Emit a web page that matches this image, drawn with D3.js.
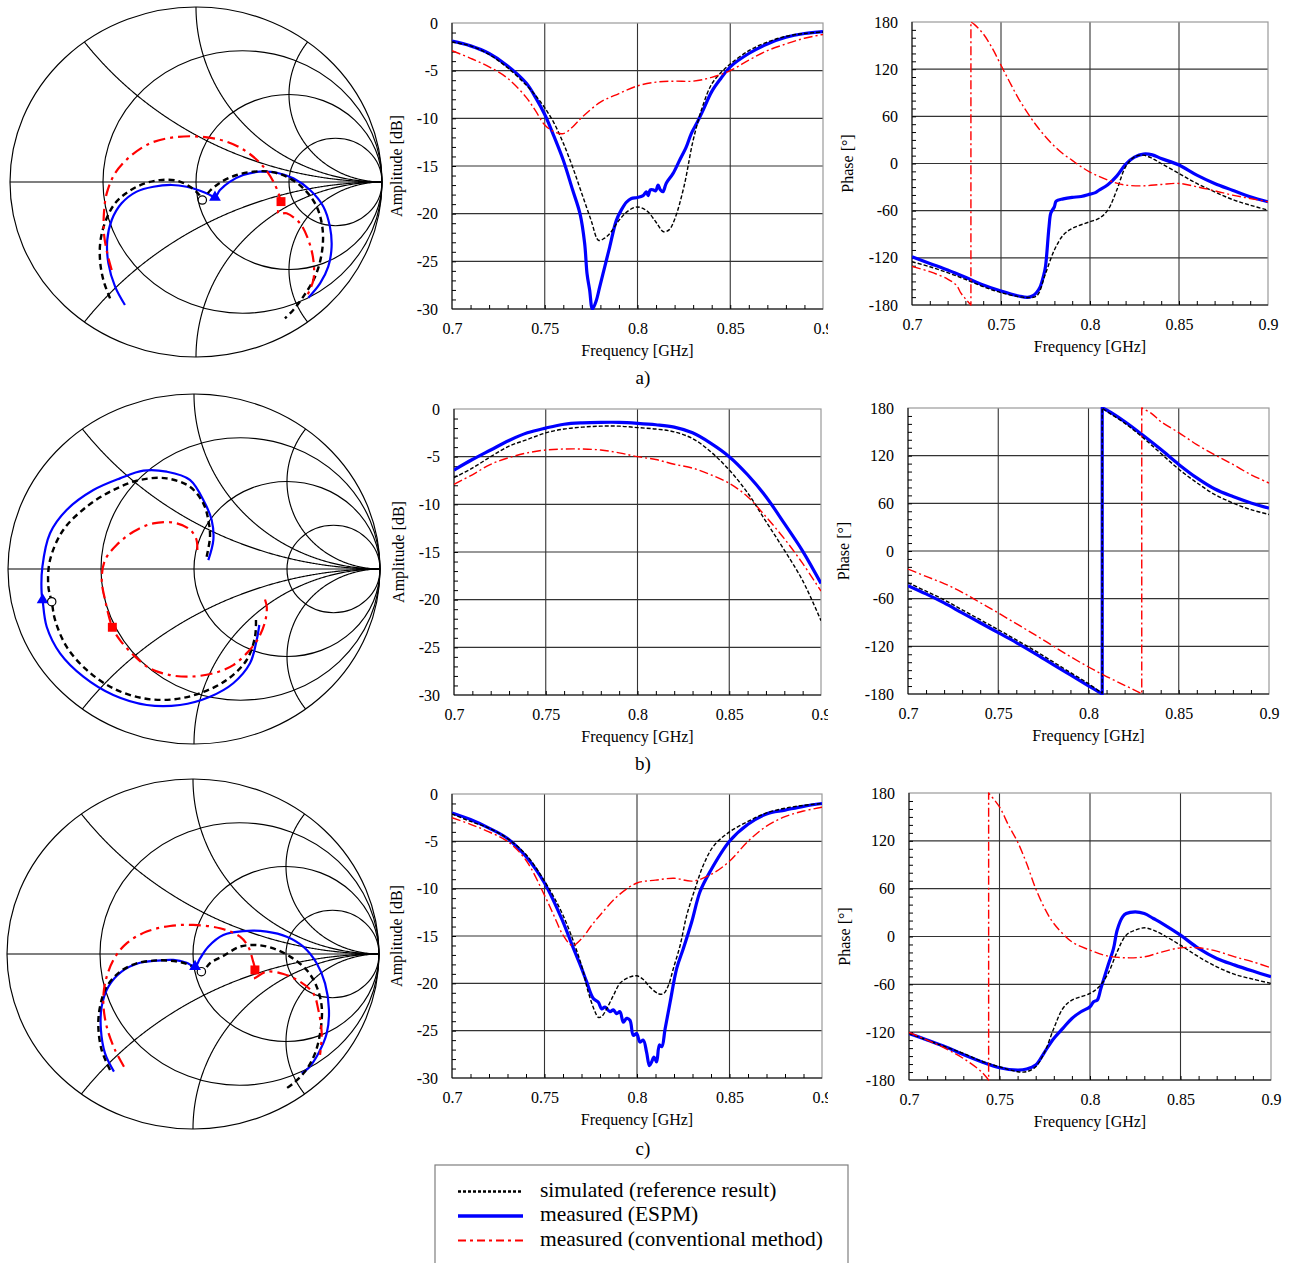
<!DOCTYPE html>
<html>
<head>
<meta charset="utf-8">
<script src="https://cdn.jsdelivr.net/npm/d3@7"></script>
<style>
  body { margin: 0; background: #fff; }
  svg { display: block; font-family: "Liberation Serif", "Times New Roman", serif; }
  svg text { font-family: "Liberation Serif", "Times New Roman", serif; }
</style>
</head>
<body>
<svg id="fig" width="1290" height="1263"></svg>
<script>
// ---- tick labels / categories ----
const FREQ_TICKS = [0.7, 0.75, 0.8, 0.85, 0.9];
const AMP_TICKS = [0, -5, -10, -15, -20, -25, -30];
const PHASE_TICKS = [180, 120, 60, 0, -60, -120, -180];
const R_CIRCLES = [1 / 3, 1, 3];
const X_ARCS = [0.5, 1, 2, -0.5, -1, -2];
const ROW_LABELS = ["a)", "b)", "c)"];
const LEGEND_LABELS = ["simulated (reference result)", "measured (ESPM)", "measured (conventional method)"];

// ---- Smith chart traces, [Re Γ, Im Γ] ----
const smithA_sim = [[-0.462,-0.665],[-0.498,-0.560],[-0.516,-0.446],[-0.513,-0.331],[-0.484,-0.217],[-0.435,-0.122],[-0.364,-0.055],[-0.283,-0.011],[-0.194,0.011],[-0.104,0.008],[-0.032,-0.027],[0.018,-0.074],[0.034,-0.103],[0.075,-0.050],[0.138,0.002],[0.219,0.040],[0.308,0.059],[0.398,0.059],[0.487,0.030],[0.577,-0.036],[0.649,-0.141],[0.681,-0.274],[0.676,-0.408],[0.640,-0.541],[0.577,-0.655],[0.523,-0.731],[0.478,-0.779]];
const smithA_esp = [[-0.382,-0.703],[-0.435,-0.598],[-0.471,-0.465],[-0.477,-0.331],[-0.453,-0.217],[-0.400,-0.122],[-0.319,-0.055],[-0.229,-0.027],[-0.131,-0.017],[-0.050,-0.027],[0.022,-0.050],[0.075,-0.074],[0.102,-0.088],[0.129,-0.046],[0.183,0.002],[0.254,0.040],[0.344,0.059],[0.434,0.053],[0.523,0.021],[0.613,-0.046],[0.685,-0.141],[0.720,-0.255],[0.729,-0.370],[0.711,-0.484],[0.667,-0.579],[0.604,-0.661]];
const smithA_conv = [[-0.453,-0.503],[-0.477,-0.408],[-0.495,-0.293],[-0.495,-0.179],[-0.480,-0.065],[-0.435,0.050],[-0.355,0.145],[-0.247,0.221],[-0.122,0.255],[0.022,0.259],[0.165,0.230],[0.272,0.173],[0.362,0.088],[0.425,-0.017],[0.452,-0.103],[0.443,-0.179],[0.487,-0.179],[0.559,-0.236],[0.604,-0.331],[0.631,-0.446],[0.631,-0.560],[0.595,-0.655]];
const smithA_marks = [[0.034,-0.103],[0.102,-0.088],[0.457,-0.112]];

const smithB_sim = [[0.068,0.070],[0.086,0.185],[0.077,0.280],[0.050,0.375],[-0.022,0.470],[-0.147,0.518],[-0.290,0.509],[-0.434,0.451],[-0.577,0.356],[-0.703,0.223],[-0.774,0.051],[-0.783,-0.101],[-0.765,-0.187],[-0.747,-0.291],[-0.685,-0.444],[-0.577,-0.577],[-0.434,-0.682],[-0.272,-0.739],[-0.111,-0.745],[0.032,-0.710],[0.176,-0.634],[0.283,-0.520],[0.328,-0.387],[0.333,-0.282]];
const smithB_esp = [[0.077,0.051],[0.104,0.166],[0.095,0.280],[0.059,0.375],[-0.022,0.509],[-0.147,0.556],[-0.272,0.562],[-0.398,0.518],[-0.541,0.451],[-0.685,0.337],[-0.774,0.204],[-0.815,0.013],[-0.819,-0.139],[-0.814,-0.177],[-0.792,-0.330],[-0.720,-0.482],[-0.595,-0.615],[-0.434,-0.720],[-0.254,-0.777],[-0.075,-0.777],[0.086,-0.730],[0.211,-0.653],[0.301,-0.539],[0.337,-0.406],[0.351,-0.320]];
const smithB_conv = [[0.018,0.109],[0.011,0.175],[-0.030,0.232],[-0.111,0.265],[-0.219,0.261],[-0.326,0.213],[-0.416,0.137],[-0.478,0.051],[-0.496,-0.063],[-0.478,-0.177],[-0.439,-0.333],[-0.398,-0.406],[-0.326,-0.491],[-0.237,-0.568],[-0.129,-0.606],[-0.022,-0.615],[0.104,-0.596],[0.211,-0.549],[0.292,-0.472],[0.346,-0.396],[0.382,-0.301],[0.391,-0.215],[0.373,-0.149]];
const smithB_marks = [[-0.765,-0.187],[-0.814,-0.177],[-0.439,-0.333]];

const smithC_sim = [[-0.446,-0.663],[-0.491,-0.549],[-0.509,-0.415],[-0.500,-0.301],[-0.464,-0.187],[-0.392,-0.101],[-0.303,-0.053],[-0.213,-0.038],[-0.124,-0.038],[-0.043,-0.053],[0.020,-0.082],[0.050,-0.101],[0.091,-0.053],[0.163,-0.011],[0.253,0.042],[0.342,0.051],[0.432,0.032],[0.522,-0.015],[0.611,-0.091],[0.665,-0.187],[0.692,-0.301],[0.686,-0.434],[0.656,-0.568],[0.602,-0.672],[0.539,-0.739],[0.495,-0.773]];
const smithC_esp = [[-0.425,-0.672],[-0.473,-0.568],[-0.495,-0.434],[-0.491,-0.301],[-0.455,-0.187],[-0.384,-0.101],[-0.294,-0.053],[-0.195,-0.038],[-0.106,-0.034],[-0.034,-0.050],[0.011,-0.072],[0.038,-0.025],[0.082,0.042],[0.163,0.109],[0.271,0.131],[0.396,0.128],[0.504,0.099],[0.593,0.042],[0.665,-0.053],[0.710,-0.168],[0.731,-0.320],[0.719,-0.453],[0.674,-0.568],[0.620,-0.653],[0.584,-0.682]];
const smithC_conv = [[-0.371,-0.644],[-0.419,-0.549],[-0.464,-0.415],[-0.482,-0.282],[-0.473,-0.168],[-0.428,-0.034],[-0.357,0.061],[-0.249,0.128],[-0.124,0.160],[0.002,0.166],[0.145,0.147],[0.253,0.099],[0.297,0.042],[0.321,-0.034],[0.333,-0.091],[0.324,-0.139],[0.396,-0.101],[0.486,-0.114],[0.575,-0.158],[0.647,-0.225],[0.674,-0.320],[0.692,-0.453],[0.683,-0.577]];
const smithC_marks = [[0.045,-0.101],[0.011,-0.072],[0.333,-0.091]];

// ---- amplitude [GHz, dB] ----
const ampA_sim = [[0.70,-2.0],[0.71,-2.4],[0.72,-3.3],[0.73,-4.7],[0.74,-6.5],[0.745,-7.6],[0.75,-8.9],[0.755,-10.5],[0.76,-12.6],[0.765,-15.1],[0.77,-17.9],[0.775,-20.7],[0.779,-22.8],[0.782,-22.6],[0.785,-22.1],[0.79,-20.7],[0.795,-19.7],[0.80,-19.3],[0.805,-19.7],[0.81,-20.9],[0.814,-21.9],[0.817,-21.7],[0.82,-20.6],[0.825,-17.2],[0.83,-12.3],[0.835,-8.8],[0.84,-6.4],[0.845,-5.2],[0.85,-4.3],[0.86,-2.9],[0.87,-2.0],[0.88,-1.4],[0.89,-1.1],[0.90,-0.95]];
const ampA_esp = [[0.70,-1.9],[0.71,-2.4],[0.72,-3.2],[0.73,-4.5],[0.74,-6.3],[0.745,-7.8],[0.75,-9.6],[0.755,-11.9],[0.76,-14.4],[0.765,-17.5],[0.769,-20.0],[0.7715,-23.1],[0.7728,-26.3],[0.7742,-28.0],[0.7757,-30.0],[0.7778,-29.1],[0.7796,-27.7],[0.7823,-25.6],[0.785,-23.5],[0.7886,-20.7],[0.7913,-19.6],[0.794,-18.8],[0.7967,-18.4],[0.80,-18.3],[0.803,-18.1],[0.8048,-17.7],[0.8057,-18.1],[0.8069,-17.5],[0.8084,-17.5],[0.8098,-17.6],[0.8111,-17.0],[0.8123,-17.5],[0.8137,-17.7],[0.8155,-16.8],[0.8191,-15.8],[0.8227,-14.4],[0.8263,-13.0],[0.829,-11.6],[0.832,-10.5],[0.835,-9.3],[0.84,-7.2],[0.845,-5.8],[0.85,-4.6],[0.86,-3.2],[0.87,-2.2],[0.88,-1.5],[0.89,-1.1],[0.90,-0.9]];
const ampA_conv = [[0.70,-2.9],[0.71,-3.7],[0.72,-4.6],[0.73,-5.8],[0.74,-7.8],[0.745,-9.2],[0.75,-10.7],[0.755,-11.4],[0.76,-11.6],[0.765,-10.9],[0.77,-9.9],[0.78,-8.3],[0.79,-7.4],[0.80,-6.6],[0.81,-6.2],[0.82,-6.1],[0.83,-6.1],[0.84,-5.7],[0.85,-5.0],[0.86,-3.9],[0.87,-2.9],[0.88,-2.2],[0.89,-1.6],[0.90,-1.2]];

const ampB_sim = [[0.70,-7.2],[0.71,-6.2],[0.72,-5.0],[0.73,-3.9],[0.74,-3.2],[0.75,-2.5],[0.76,-2.1],[0.77,-1.9],[0.78,-1.8],[0.79,-1.8],[0.80,-1.95],[0.81,-2.1],[0.82,-2.4],[0.83,-3.1],[0.84,-4.5],[0.85,-6.4],[0.86,-8.8],[0.87,-11.8],[0.88,-14.8],[0.89,-18.0],[0.90,-22.2]];
const ampB_esp = [[0.70,-6.4],[0.71,-5.3],[0.72,-4.3],[0.73,-3.3],[0.74,-2.5],[0.75,-2.0],[0.76,-1.6],[0.77,-1.45],[0.78,-1.4],[0.79,-1.4],[0.80,-1.5],[0.81,-1.65],[0.82,-1.9],[0.83,-2.5],[0.84,-3.6],[0.85,-5.0],[0.86,-6.9],[0.87,-9.2],[0.88,-12.0],[0.89,-14.9],[0.90,-18.3]];
const ampB_conv = [[0.70,-7.9],[0.71,-6.9],[0.72,-5.8],[0.73,-5.1],[0.74,-4.6],[0.75,-4.3],[0.76,-4.2],[0.77,-4.2],[0.78,-4.3],[0.79,-4.6],[0.80,-5.0],[0.81,-5.3],[0.82,-5.8],[0.83,-6.2],[0.84,-6.9],[0.85,-7.8],[0.86,-9.2],[0.87,-11.3],[0.88,-13.6],[0.89,-16.2],[0.90,-19.1]];

const ampC_sim = [[0.70,-2.1],[0.71,-2.9],[0.72,-3.6],[0.73,-4.7],[0.74,-6.4],[0.75,-9.2],[0.76,-12.8],[0.77,-18.1],[0.7736,-20.9],[0.7773,-23.0],[0.7791,-23.6],[0.7809,-23.5],[0.7836,-22.7],[0.7872,-21.3],[0.7908,-20.0],[0.7953,-19.4],[0.7998,-19.2],[0.8034,-19.6],[0.807,-20.4],[0.8116,-21.1],[0.8143,-21.1],[0.817,-20.2],[0.8197,-18.4],[0.8233,-16.0],[0.8269,-12.8],[0.8314,-10.0],[0.8359,-7.5],[0.8414,-5.5],[0.85,-4.0],[0.86,-2.9],[0.87,-2.0],[0.88,-1.5],[0.89,-1.2],[0.90,-1.0]];
const ampC_esp = [[0.70,-2.0],[0.71,-2.7],[0.72,-3.6],[0.73,-4.7],[0.74,-6.6],[0.75,-9.4],[0.76,-13.5],[0.765,-16.0],[0.77,-18.4],[0.7727,-19.8],[0.7764,-21.6],[0.7791,-22.0],[0.7809,-22.7],[0.7827,-22.5],[0.7854,-23.0],[0.7872,-22.8],[0.789,-23.2],[0.7908,-23.0],[0.7926,-24.1],[0.7944,-23.7],[0.7962,-23.9],[0.798,-25.5],[0.7998,-25.3],[0.8016,-26.2],[0.8034,-26.0],[0.8052,-27.3],[0.8067,-28.7],[0.8079,-28.3],[0.8092,-27.8],[0.8106,-28.3],[0.8121,-26.5],[0.8134,-26.7],[0.8152,-24.8],[0.8179,-22.0],[0.8215,-18.4],[0.8251,-16.3],[0.8296,-13.5],[0.8341,-10.3],[0.8395,-8.2],[0.85,-5.0],[0.86,-3.2],[0.87,-2.1],[0.88,-1.7],[0.89,-1.3],[0.90,-1.0]];
const ampC_conv = [[0.70,-2.5],[0.71,-3.2],[0.72,-4.0],[0.73,-5.0],[0.74,-7.0],[0.75,-10.7],[0.755,-12.8],[0.76,-14.9],[0.765,-16.0],[0.77,-15.3],[0.775,-14.0],[0.78,-12.8],[0.79,-10.7],[0.80,-9.4],[0.81,-9.1],[0.82,-8.9],[0.83,-9.2],[0.84,-8.5],[0.85,-7.1],[0.86,-5.0],[0.87,-3.4],[0.88,-2.4],[0.89,-1.8],[0.90,-1.4]];

// ---- phase [GHz, deg] ----
const phaseA_sim = [[0.70,-125],[0.71,-131.3],[0.72,-138.9],[0.73,-147.4],[0.74,-156.7],[0.75,-164.3],[0.76,-169.4],[0.765,-170.5],[0.77,-168.6],[0.775,-140],[0.78,-110],[0.785,-91],[0.79,-82.6],[0.80,-74],[0.805,-69.9],[0.81,-59.3],[0.815,-34],[0.82,-4.2],[0.825,8.5],[0.83,10.6],[0.835,6.4],[0.84,0],[0.85,-12.7],[0.86,-25.4],[0.87,-36],[0.88,-45.8],[0.89,-53],[0.90,-59.3]];
const phaseA_esp = [[0.70,-118.6],[0.71,-127.1],[0.72,-135.5],[0.73,-144.8],[0.74,-154.6],[0.75,-162.2],[0.76,-168.6],[0.765,-170.3],[0.768,-168],[0.77,-164],[0.772,-157],[0.774,-142],[0.775,-131],[0.777,-80],[0.778,-63],[0.78,-55],[0.781,-48],[0.785,-45],[0.79,-43],[0.795,-42],[0.80,-39],[0.803,-37],[0.805,-34],[0.81,-27],[0.815,-16],[0.82,-1],[0.825,8],[0.83,12],[0.835,11],[0.84,6.4],[0.85,-2],[0.86,-14.8],[0.87,-25.4],[0.88,-34],[0.89,-42.4],[0.90,-48.7]];
const phaseA_conv = [[0.70,-131],[0.71,-137.6],[0.72,-147],[0.725,-155],[0.7275,-165],[0.73,-172],[0.7331,-180],[0.7331,180],[0.735,177],[0.74,165],[0.745,147],[0.75,125],[0.755,103],[0.76,82],[0.765,64],[0.77,48],[0.775,34],[0.78,22],[0.785,12],[0.79,4],[0.795,-4],[0.80,-11],[0.81,-21],[0.815,-25],[0.82,-27.5],[0.83,-28.4],[0.84,-26.7],[0.85,-25.4],[0.86,-29.6],[0.87,-34.7],[0.88,-40.2],[0.89,-44.5],[0.90,-48.7]];

const phaseB_sim = [[0.70,-40],[0.71,-50.5],[0.72,-61.5],[0.73,-74],[0.74,-86.5],[0.75,-99],[0.76,-112],[0.77,-125],[0.78,-139],[0.79,-153],[0.80,-167],[0.8076,-179],[0.8076,180],[0.81,176],[0.82,161],[0.83,143],[0.84,123],[0.85,103],[0.86,86],[0.87,71],[0.88,60.5],[0.89,52],[0.90,46]];
const phaseB_esp = [[0.70,-43.6],[0.71,-54],[0.72,-65.4],[0.73,-77.9],[0.74,-90.3],[0.75,-102.8],[0.76,-115.3],[0.77,-128.5],[0.78,-142.3],[0.79,-156],[0.80,-169.7],[0.8076,-180],[0.8076,180],[0.81,177.5],[0.82,163],[0.83,146],[0.84,128],[0.85,109],[0.86,92],[0.87,78],[0.88,68.5],[0.89,60.5],[0.90,54]];
const phaseB_conv = [[0.70,-22.7],[0.71,-32],[0.72,-41],[0.73,-52],[0.74,-65],[0.75,-78],[0.76,-91.5],[0.77,-105],[0.78,-119],[0.79,-133],[0.80,-146],[0.81,-158],[0.82,-169],[0.828,-178],[0.8295,-180],[0.8295,180],[0.835,173],[0.84,163],[0.85,149],[0.86,134],[0.87,121],[0.88,109],[0.89,96],[0.90,85.6]];

const phaseC_sim = [[0.70,-121.6],[0.71,-129.9],[0.72,-138.3],[0.73,-146.6],[0.74,-156.3],[0.75,-163.4],[0.76,-169.6],[0.765,-169.6],[0.77,-163.4],[0.775,-144.6],[0.78,-115.3],[0.785,-90.3],[0.79,-79.8],[0.80,-71.4],[0.805,-63.1],[0.81,-46.4],[0.815,-19.2],[0.82,1.7],[0.825,7.9],[0.83,10.9],[0.835,7.9],[0.84,2.5],[0.85,-10.9],[0.86,-25.5],[0.87,-38],[0.88,-47.6],[0.89,-53.5],[0.90,-58.9]];
const phaseC_esp = [[0.70,-121.6],[0.71,-129.9],[0.72,-138.3],[0.73,-147.9],[0.74,-157.1],[0.75,-164.6],[0.76,-167.5],[0.765,-166.3],[0.77,-161.3],[0.775,-144.6],[0.78,-127.9],[0.785,-115.3],[0.79,-102.8],[0.795,-94.4],[0.80,-88.1],[0.802,-81.8],[0.804,-79.8],[0.806,-65.2],[0.81,-35.9],[0.813,-15],[0.815,7.9],[0.818,24.6],[0.82,28.8],[0.825,30.9],[0.83,28.8],[0.835,22.6],[0.84,16.3],[0.85,1.7],[0.86,-15],[0.87,-27.6],[0.88,-35.9],[0.89,-43.4],[0.90,-50.5]];
const phaseC_conv = [[0.70,-120.3],[0.71,-129.9],[0.72,-140.4],[0.73,-152.9],[0.74,-169.6],[0.744,-180],[0.744,180],[0.75,162.5],[0.755,139.5],[0.76,118.6],[0.765,91.5],[0.77,60.1],[0.775,35.1],[0.78,16.3],[0.79,-6.7],[0.80,-17.1],[0.81,-24.6],[0.82,-26.7],[0.83,-25.5],[0.84,-19.2],[0.85,-14.2],[0.86,-14.2],[0.87,-18.4],[0.88,-25.5],[0.89,-31.8],[0.90,-39.3]];

// ---- styles ----
const CART_STYLE = {
  esp:  { stroke: "#0000ff", width: 3.2, dash: null },
  sim:  { stroke: "#000000", width: 1.4, dash: "4,2" },
  conv: { stroke: "#ff0000", width: 1.4, dash: "9,3,2,3" }
};
const SMITH_STYLE = {
  esp:  { stroke: "#0000ff", width: 2.2, dash: null },
  sim:  { stroke: "#000000", width: 2.4, dash: "6,4" },
  conv: { stroke: "#ff0000", width: 2.2, dash: "12,5,3,5" }
};

const svg = d3.select("#fig");
svg.append("rect").attr("width", 1290).attr("height", 1263).attr("fill", "#fff");
const FONT = "Liberation Serif, Times New Roman, serif";
let clipId = 0;

function drawSmith(box, sets, marks) {
  const g = svg.append("g");
  const sx = d3.scaleLinear().domain([-1, 1]).range([box.cx - box.rx, box.cx + box.rx]);
  const sy = d3.scaleLinear().domain([-1, 1]).range([box.cy + box.ry, box.cy - box.ry]);
  const grid = d3.line().x(d => sx(d[0])).y(d => sy(d[1]));
  const gam = (r, x) => { const D = (r + 1) * (r + 1) + x * x; return [(r * r - 1 + x * x) / D, 2 * x / D]; };
  const gg = g.append("g").attr("fill", "none").attr("stroke", "#000").attr("stroke-width", 1.15);
  gg.append("ellipse").attr("cx", sx(0)).attr("cy", sy(0)).attr("rx", box.rx).attr("ry", box.ry);
  gg.append("line").attr("x1", sx(-1)).attr("x2", sx(1)).attr("y1", sy(0)).attr("y2", sy(0));
  R_CIRCLES.forEach(r => {
    gg.append("ellipse").attr("cx", sx(r / (r + 1))).attr("cy", sy(0))
      .attr("rx", box.rx / (r + 1)).attr("ry", box.ry / (r + 1));
  });
  const ts = d3.range(0, 1, 0.0025);
  X_ARCS.forEach(x => {
    const pts = ts.map(t => gam(Math.tan(t * Math.PI / 2), x));
    pts.push([1, 0]);
    gg.append("path").attr("d", grid(pts));
  });

  const line = d3.line().x(d => sx(d[0])).y(d => sy(d[1])).curve(d3.curveCatmullRom.alpha(0.5));
  ["esp", "sim", "conv"].forEach(k => {
    const s = SMITH_STYLE[k];
    g.append("path").attr("d", line(sets[k])).attr("fill", "none")
      .attr("stroke", s.stroke).attr("stroke-width", s.width)
      .attr("stroke-dasharray", s.dash).attr("stroke-linejoin", "round");
  });
  // markers: open circle (sim), triangle (ESPM), square (conventional)
  g.append("path").attr("transform", `translate(${sx(marks[0][0])},${sy(marks[0][1])})`)
    .attr("d", d3.symbol(d3.symbolCircle, 55)()).attr("fill", "#fff").attr("stroke", "#000").attr("stroke-width", 1.2);
  g.append("path").attr("transform", `translate(${sx(marks[1][0])},${sy(marks[1][1])})`)
    .attr("d", d3.symbol(d3.symbolTriangle, 60)()).attr("fill", "#0000ff");
  g.append("path").attr("transform", `translate(${sx(marks[2][0])},${sy(marks[2][1])})`)
    .attr("d", d3.symbol(d3.symbolSquare, 80)()).attr("fill", "#ff0000");
}

// split a phase trace where it wraps from -180 to +180
function pieces(arr) {
  const out = [[arr[0]]];
  for (let i = 1; i < arr.length; i++) {
    if (Math.abs(arr[i][1] - arr[i - 1][1]) > 180) out.push([]);
    out[out.length - 1].push(arr[i]);
  }
  return out;
}

function drawCart(box, opt, sets) {
  const g = svg.append("g");
  const x = d3.scaleLinear().domain([0.7, 0.9]).range([box.x0, box.x1]);
  const y = d3.scaleLinear().domain(opt.domain).range([box.y1, box.y0]);

  // grid
  g.selectAll(null).data([0.75, 0.8, 0.85]).join("line")
    .attr("x1", d => x(d)).attr("x2", d => x(d)).attr("y1", box.y0).attr("y2", box.y1)
    .attr("stroke", "#333").attr("stroke-width", 1.1);
  g.selectAll(null).data(opt.ticks.filter(v => v !== opt.domain[0] && v !== opt.domain[1])).join("line")
    .attr("x1", box.x0).attr("x2", box.x1).attr("y1", d => y(d)).attr("y2", d => y(d))
    .attr("stroke", "#333").attr("stroke-width", 1.1);
  // frame
  g.append("rect").attr("x", box.x0).attr("y", box.y0)
    .attr("width", box.x1 - box.x0).attr("height", box.y1 - box.y0)
    .attr("fill", "none").attr("stroke", "#9a9a9a").attr("stroke-width", 1.2);
  g.append("line").attr("x1", box.x0).attr("x2", box.x0).attr("y1", box.y0).attr("y2", box.y1).attr("stroke", "#000");
  g.append("line").attr("x1", box.x0).attr("x2", box.x1).attr("y1", box.y1).attr("y2", box.y1).attr("stroke", "#000");

  // minor ticks
  g.append("g").attr("transform", `translate(0,${box.y1})`)
    .call(d3.axisBottom(x).tickValues(d3.range(71, 90).map(v => v / 100)).tickSize(-4).tickFormat(""))
    .call(a => a.select(".domain").remove());
  g.append("g").attr("transform", `translate(${box.x0},0)`)
    .call(d3.axisLeft(y).tickValues(opt.minor).tickSize(-4).tickFormat(""))
    .call(a => a.select(".domain").remove());

  // tick labels
  const lab = g.append("g");
  if (opt.clipRight) {
    const id = "lc" + (clipId++);
    svg.append("clipPath").attr("id", id).append("rect")
      .attr("x", 0).attr("y", 0).attr("width", opt.clipRight).attr("height", 1263);
    lab.attr("clip-path", `url(#${id})`);
  }
  lab.append("g").attr("transform", `translate(0,${box.y1})`)
    .call(d3.axisBottom(x).tickValues(FREQ_TICKS).tickSize(0).tickPadding(14).tickFormat(d => String(d)))
    .call(a => a.select(".domain").remove());
  lab.append("g").attr("transform", `translate(${box.x0},0)`)
    .call(d3.axisLeft(y).tickValues(opt.ticks).tickSize(0).tickPadding(14).tickFormat(d => String(d)))
    .call(a => a.select(".domain").remove());
  lab.selectAll("g").attr("font-family", null).attr("font-size", null);
  lab.selectAll(".tick text").attr("fill", "#000")
    .style("font-family", FONT).style("font-size", "16px");

  // titles
  g.append("text").attr("x", (box.x0 + box.x1) / 2).attr("y", box.y1 + 47)
    .attr("text-anchor", "middle").attr("font-size", 16).text("Frequency [GHz]");
  g.append("text").attr("transform", `translate(${box.x0 - opt.titleOff},${(box.y0 + box.y1) / 2}) rotate(-90)`)
    .attr("text-anchor", "middle").attr("font-size", 16).text(opt.title);

  // data
  const id = "pc" + (clipId++);
  svg.append("clipPath").attr("id", id).append("rect")
    .attr("x", box.x0).attr("y", box.y0 - 1).attr("width", box.x1 - box.x0).attr("height", box.y1 - box.y0 + 2);
  const dg = g.append("g").attr("clip-path", `url(#${id})`);
  const line = d3.line().x(d => x(d[0])).y(d => y(d[1])).curve(d3.curveCatmullRom.alpha(0.5));
  ["esp", "sim", "conv"].forEach(k => {
    const s = CART_STYLE[k];
    const d = pieces(sets[k]).map((p, i) => {
      const str = line(p);
      return i ? "L" + str.slice(1) : str;
    }).join("");
    dg.append("path").attr("d", d).attr("fill", "none")
      .attr("stroke", s.stroke).attr("stroke-width", s.width)
      .attr("stroke-dasharray", s.dash).attr("stroke-linejoin", "round");
  });
}

const ampOpt = { domain: [-30, 0], ticks: AMP_TICKS, minor: d3.range(-29, 0, 1), title: "Amplitude [dB]", titleOff: 50, clipRight: 828 };
const phaseOpt = { domain: [-180, 180], ticks: PHASE_TICKS, minor: d3.range(-170, 180, 10), title: "Phase [°]", titleOff: 59, clipRight: null };

// row a
drawSmith({ cx: 196, cy: 182, rx: 186, ry: 175 }, { sim: smithA_sim, esp: smithA_esp, conv: smithA_conv }, smithA_marks);
drawCart({ x0: 452, x1: 823, y0: 23, y1: 309 }, ampOpt, { sim: ampA_sim, esp: ampA_esp, conv: ampA_conv });
drawCart({ x0: 912, x1: 1268, y0: 22, y1: 305 }, phaseOpt, { sim: phaseA_sim, esp: phaseA_esp, conv: phaseA_conv });
// row b
drawSmith({ cx: 194, cy: 569, rx: 186, ry: 175 }, { sim: smithB_sim, esp: smithB_esp, conv: smithB_conv }, smithB_marks);
drawCart({ x0: 454, x1: 821, y0: 409, y1: 695 }, ampOpt, { sim: ampB_sim, esp: ampB_esp, conv: ampB_conv });
drawCart({ x0: 908, x1: 1269, y0: 408, y1: 694 }, phaseOpt, { sim: phaseB_sim, esp: phaseB_esp, conv: phaseB_conv });
// row c
drawSmith({ cx: 193, cy: 954, rx: 186, ry: 175 }, { sim: smithC_sim, esp: smithC_esp, conv: smithC_conv }, smithC_marks);
drawCart({ x0: 452, x1: 822, y0: 794, y1: 1078 }, ampOpt, { sim: ampC_sim, esp: ampC_esp, conv: ampC_conv });
drawCart({ x0: 909, x1: 1271, y0: 793, y1: 1080 }, phaseOpt, { sim: phaseC_sim, esp: phaseC_esp, conv: phaseC_conv });

// row captions
svg.selectAll("text.cap").data(ROW_LABELS).join("text").attr("class", "cap")
  .attr("x", 643).attr("y", (d, i) => [384, 770, 1155][i])
  .attr("text-anchor", "middle").attr("font-size", 19).text(d => d);

// legend
const lg = svg.append("g");
lg.append("rect").attr("x", 435).attr("y", 1165).attr("width", 413).attr("height", 130)
  .attr("fill", "#fff").attr("stroke", "#7f7f7f").attr("stroke-width", 1.2);
const legStyle = [
  { stroke: "#000", width: 2.6, dash: "3,2" },
  { stroke: "#0000ff", width: 3.5, dash: null },
  { stroke: "#ff0000", width: 2, dash: "8,4,3,4" }
];
LEGEND_LABELS.forEach((t, i) => {
  const yy = 1191.5 + i * 24.5;
  lg.append("line").attr("x1", 458).attr("x2", 523).attr("y1", yy).attr("y2", yy)
    .attr("stroke", legStyle[i].stroke).attr("stroke-width", legStyle[i].width)
    .attr("stroke-dasharray", legStyle[i].dash);
  lg.append("text").attr("x", 540).attr("y", yy + 5).attr("font-size", 21.5).text(t);
});
</script>
</body>
</html>
